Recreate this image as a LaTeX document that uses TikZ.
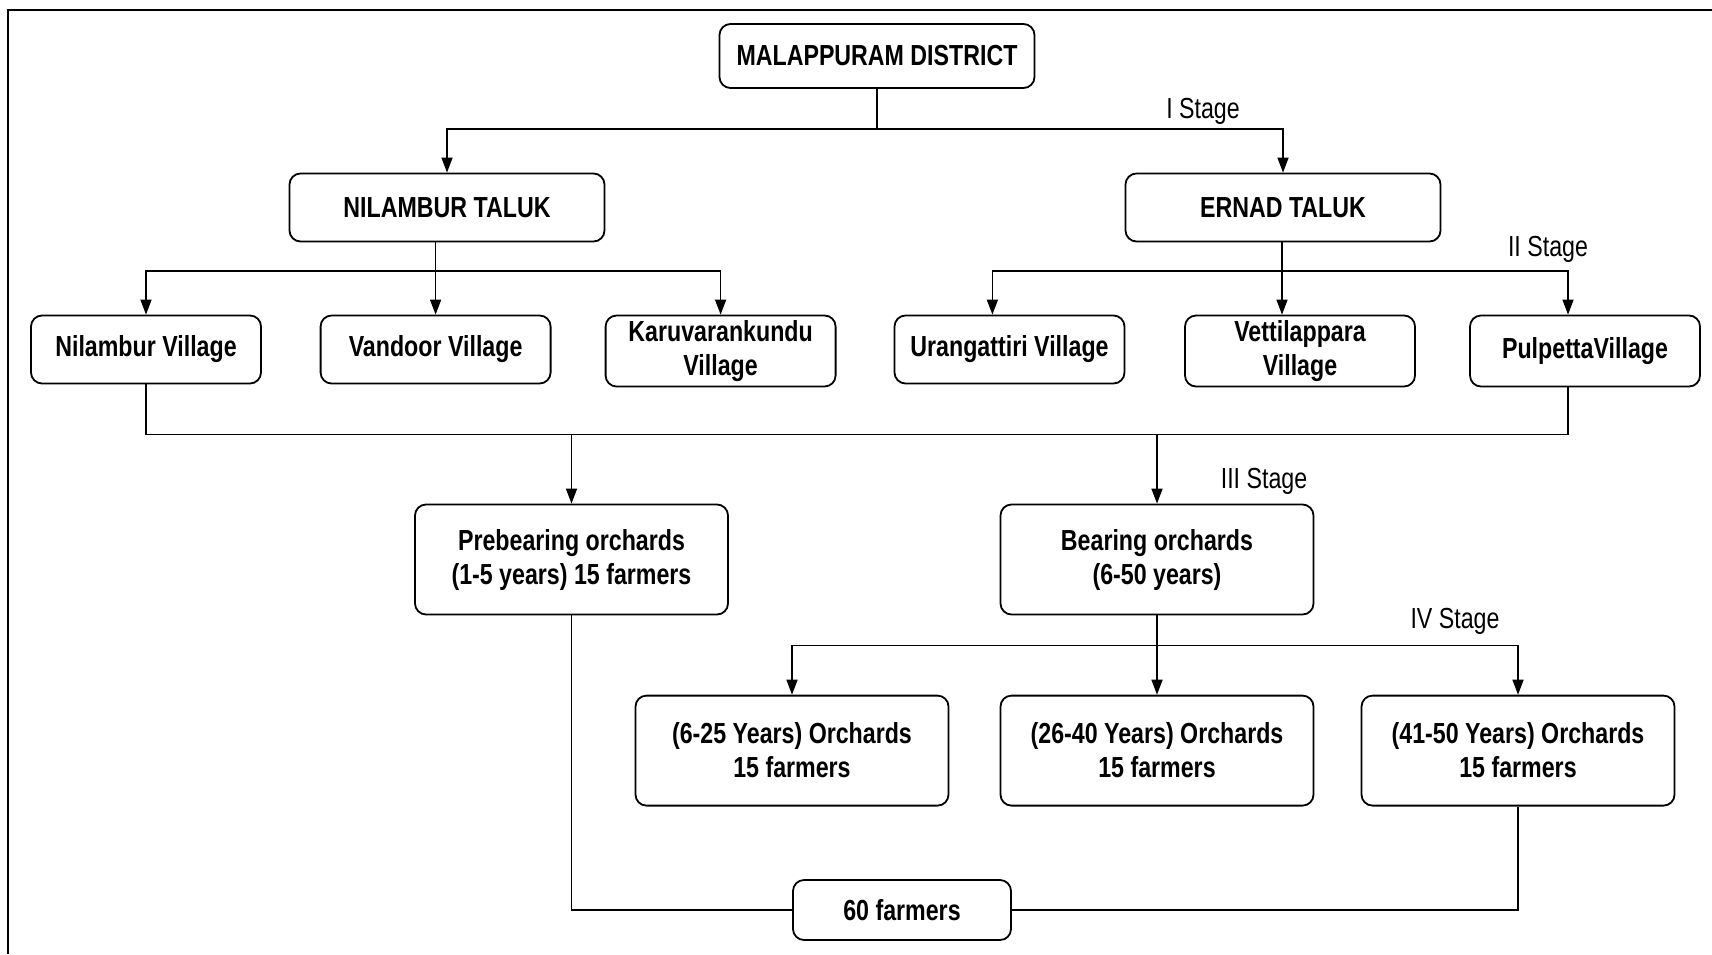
\documentclass[tikz,border=0pt]{standalone}
\usepackage{fontspec}
\setmainfont[FakeStretch=0.8]{Liberation Sans}
\usetikzlibrary{arrows.meta}
\begin{document}
\begin{tikzpicture}[x=1pt,y=-1pt,
  box/.style={draw,line width=1.8pt,rounded corners=11pt,align=center,inner sep=0pt,
    font=\fontsize{29}{34}\selectfont\bfseries},
  wbox/.style={box,minimum width=315pt,minimum height=68pt},
  vbox/.style={box,minimum width=230pt,minimum height=68pt},
  obox/.style={box,minimum width=313pt,minimum height=110pt},
  conn/.style={line width=1.5pt},
  arr/.style={conn,-{Triangle[width=11pt,length=15pt]}},
  stage/.style={inner sep=0pt,font=\fontsize{29}{34}\selectfont}]
\useasboundingbox (0,0) rectangle (1712,954);
\draw[line width=1.8pt] (8,954) -- (8,10) -- (1712,10);

% boxes
\node[box,minimum width=315pt,minimum height=64pt] (mal) at (877,56) {MALAPPURAM DISTRICT};
\node[wbox] (nil) at (447,207.5) {NILAMBUR TALUK};
\node[wbox] (ern) at (1283,207.5) {ERNAD TALUK};

\node[vbox] (nv) at (146,349.5) {Nilambur Village};
\node[vbox] (vd) at (435.6,349.5) {Vandoor Village};
\node[vbox,minimum height=71pt] (kv) at (720.6,351) {Karuvarankundu\\Village};
\node[vbox] (ur) at (1009.5,349.5) {Urangattiri Village};
\node[vbox,minimum height=71pt] (vt) at (1300,351) {Vettilappara\\Village};
\node[vbox,minimum height=71pt] (pu) at (1585,351) {PulpettaVillage};

\node[obox] (pre) at (571.5,559.5) {Prebearing orchards\\(1-5 years) 15 farmers};
\node[obox] (bear) at (1157,559.5) {Bearing orchards\\(6-50 years)};

\node[obox] (b1) at (792,750.6) {(6-25 Years) Orchards\\15 farmers};
\node[obox] (b2) at (1157,750.6) {(26-40 Years) Orchards\\15 farmers};
\node[obox] (b3) at (1518,750.6) {(41-50 Years) Orchards\\15 farmers};

\node[box,minimum width=218pt,minimum height=60pt] (sixty) at (902,910) {60 farmers};

% stage labels
\node[stage] (s1) at (1203,111) {I Stage};
\node[stage] (s2) at (1548,249) {II Stage};
\node[stage] (s3) at (1264,481.5) {III Stage};
\node[stage] (s4) at (1455,621) {IV Stage};

% level 1
\coordinate (h1) at (0,128.8);
\draw[conn] (mal.south) -- (mal.south |- h1);
\draw[arr] (mal.south |- h1) -| (nil.north);
\draw[arr] (mal.south |- h1) -| (ern.north);

% level 2 left
\coordinate (n2) at (435.6,270.8);
\draw[conn] (nil.south -| n2) -- (n2);
\draw[arr] (n2) -| (nv.north);
\draw[arr] (n2) -- (vd.north);
\draw[arr] (n2) -| (kv.north);

% level 2 right
\coordinate (e2) at (1282,270.8);
\coordinate (ura) at (992.4,0);
\coordinate (pua) at (1568,0);
\draw[conn] (ern.south -| e2) -- (e2);
\draw[arr] (e2) -| (ura |- ur.north);
\draw[arr] (e2) -- (e2 |- vt.north);
\draw[arr] (e2) -| (pua |- pu.north);

% level 3
\coordinate (h3l) at (146,434.5);
\coordinate (h3r) at (1568,434.5);
\draw[conn] (nv.south) -- (h3l) -- (h3r) -- (h3r |- pu.south);
\draw[arr] (pre.north |- h3l) -- (pre.north);
\draw[arr] (bear.north |- h3l) -- (bear.north);

% level 4
\coordinate (h4) at (0,645.3);
\draw[conn] (bear.south) -- (bear.south |- h4);
\draw[conn] (b1.north |- h4) -- (b3.north |- h4);
\draw[arr] (b1.north |- h4) -- (b1.north);
\draw[arr] (b2.north |- h4) -- (b2.north);
\draw[arr] (b3.north |- h4) -- (b3.north);

% bottom
\draw[conn] (pre.south) |- (sixty.west);
\draw[conn] (b3.south) |- (sixty.east);
\end{tikzpicture}
\end{document}
